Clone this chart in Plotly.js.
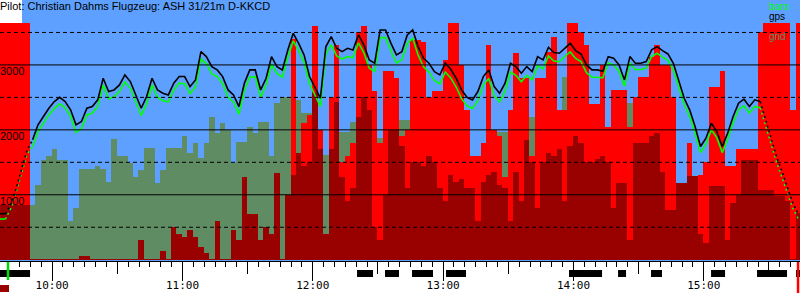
<!DOCTYPE html>
<html><head><meta charset="utf-8">
<script src="https://cdn.plot.ly/plotly-3.0.1.min.js"></script>
<style>html,body{margin:0;padding:0;background:#fff}#chart{width:800px;height:300px}</style>
</head><body><div id="chart"></div>
<script>
const DAY = '2024-06-01 ';
const times = [
'09:36:00','09:38:30','09:41:00','09:43:30','09:46:00','09:48:30','09:51:00','09:53:30','09:56:00','09:58:30',
'10:01:00','10:03:30','10:06:00','10:08:30','10:11:00','10:13:30','10:16:00','10:18:30','10:21:00','10:23:30',
'10:26:00','10:28:30','10:31:00','10:33:30','10:36:00','10:38:30','10:41:00','10:43:30','10:46:00','10:48:30',
'10:51:00','10:53:30','10:56:00','10:58:30','11:01:00','11:03:30','11:06:00','11:08:30','11:11:00','11:13:30',
'11:16:00','11:18:30','11:21:00','11:23:30','11:26:00','11:28:30','11:31:00','11:33:30','11:36:00','11:38:30',
'11:41:00','11:43:30','11:46:00','11:48:30','11:51:00','11:53:30','11:56:00','11:58:30','12:01:00','12:03:30',
'12:06:00','12:08:30','12:11:00','12:13:30','12:16:00','12:18:30','12:21:00','12:23:30','12:26:00','12:28:30',
'12:31:00','12:33:30','12:36:00','12:38:30','12:41:00','12:43:30','12:46:00','12:48:30','12:51:00','12:53:30',
'12:56:00','12:58:30','13:01:00','13:03:30','13:06:00','13:08:30','13:11:00','13:13:30','13:16:00','13:18:30',
'13:21:00','13:23:30','13:26:00','13:28:30','13:31:00','13:33:30','13:36:00','13:38:30','13:41:00','13:43:30',
'13:46:00','13:48:30','13:51:00','13:53:30','13:56:00','13:58:30','14:01:00','14:03:30','14:06:00','14:08:30',
'14:11:00','14:13:30','14:16:00','14:18:30','14:21:00','14:23:30','14:26:00','14:28:30','14:31:00','14:33:30',
'14:36:00','14:38:30','14:41:00','14:43:30','14:46:00','14:48:30','14:51:00','14:53:30','14:56:00','14:58:30',
'15:01:00','15:03:30','15:06:00','15:08:30','15:11:00','15:13:30','15:16:00','15:18:30','15:21:00','15:23:30',
'15:26:00','15:28:30','15:31:00','15:33:30','15:36:00','15:38:30','15:41:00','15:43:30'];

const gps = [
708,708,846,1103,1410,1692,1846,2077,2205,2333,
2436,2502,2436,2308,2077,2128,2333,2359,2462,2795,
2590,2615,2692,2846,2744,2538,2333,2513,2795,2615,
2564,2538,2718,2821,2821,2667,2769,3205,3128,2974,
2923,2820,2615,2538,2359,2718,2923,2923,2615,2795,
3128,2974,2923,3231,3487,3333,3154,2821,2641,2487,
3280,3436,3256,3205,3256,3231,3462,3308,3077,3026,
3538,3538,3333,3154,3205,3462,3538,3282,3103,3026,
2897,2846,3026,2933,2795,2615,2502,2462,2590,2820,
2923,2667,2564,2718,3026,2974,2872,2974,2897,3128,
3077,3272,3190,3180,3256,3333,3221,3169,3000,2923,
2923,2903,3128,3103,3000,2769,3128,3026,3026,3051,
3231,3282,3221,3169,3026,2769,2487,2308,2051,1744,
1872,2103,1974,1744,1949,2205,2410,2472,2359,2462,
2436,2154,1872,1590,1359,1128,872,708];

const baro = [
626,626,790,1050,1350,1630,1740,1970,2100,2230,
2330,2400,2340,2210,1960,2020,2230,2260,2360,2690,
2480,2510,2590,2740,2640,2430,2220,2400,2690,2500,
2450,2430,2610,2720,2710,2560,2660,3090,3020,2860,
2820,2710,2500,2430,2240,2610,2810,2820,2500,2690,
3010,2870,2810,3120,3370,3220,3040,2710,2530,2360,
3170,3310,3140,3090,3130,3110,3340,3190,2950,2900,
3420,3420,3210,3030,3080,3330,3410,3150,2970,2890,
2760,2710,2890,2800,2660,2480,2370,2330,2450,2690,
2790,2530,2430,2590,2890,2840,2740,2840,2770,2990,
2940,3140,3060,3050,3130,3200,3100,3050,2880,2810,
2810,2800,3030,3000,2900,2670,3030,2930,2930,2950,
3130,3180,3120,3070,2920,2670,2390,2210,1950,1650,
1780,2000,1880,1650,1850,2110,2310,2370,2260,2360,
2340,2060,1780,1500,1270,1040,790,630];

const gnd = [
700,700,700,700,700,700,846,1154,1540,1590,
1700,1538,1538,600,800,1395,1395,1395,1440,1395,
1190,1862,1590,1590,1485,1280,1380,1718,1718,1180,
1380,1718,1718,1718,1900,1640,1800,1564,1795,2205,
1949,2100,2000,1487,1820,1820,2051,1950,2128,2128,
1590,2410,2513,2513,2460,2460,2256,2256,2300,1615,
1615,1700,1800,1974,1974,2128,2000,2000,1900,1870,
1870,2385,2385,2385,2154,2154,2154,1900,1800,1700,
1600,1550,1500,1500,1500,1460,1460,1436,1436,1800,
1800,1800,1974,1974,1974,2154,2154,2200,2200,1385,
1385,2410,2256,2256,2820,2667,2564,2300,2300,2385,
2385,1538,1949,1300,1282,1282,2410,2410,2410,2500,
2667,2300,2256,2256,1800,1180,1180,1180,1180,1050,
950,1025,1025,1025,897,897,897,1590,1590,1590,
1400,1200,1100,1000,950,770,770,700];

const speed = [
3650,3650,3650,3650,3650,3650,0,0,0,0,
0,0,0,0,0,0,0,0,0,0,
0,0,0,0,0,0,0,0,0,0,
0,0,0,0,0,0,0,0,0,0,
0,0,0,0,0,0,0,0,0,0,
0,0,0,0,3400,0,2100,2230,3600,2000,
0,2500,3300,1500,1600,1800,3500,3600,3000,2600,
1800,2900,2900,2800,1900,2000,3380,3380,3350,2513,
2600,2600,3077,3640,3640,3000,2300,1590,1590,1800,
3300,2000,1900,1280,2300,3180,2800,2800,1590,2800,
2800,3200,3430,2300,2300,3640,3640,3500,3300,2400,
2400,3000,2050,2615,2615,2615,2050,2500,2820,2820,
3128,3300,3000,3000,2500,1000,1000,1800,1280,1300,
1500,2667,2667,2900,1436,1436,1700,1700,1700,1700,
3500,3650,3650,3650,3650,3650,2300,3650];

const enl = [
846,846,846,846,846,846,15,15,15,15,
15,15,15,15,15,50,60,15,15,15,
15,15,15,15,15,15,300,15,15,15,
130,15,500,400,350,450,350,200,100,15,
600,15,15,450,300,1280,700,700,300,500,
400,1333,15,1000,1300,1640,1436,1500,2564,1700,
400,1700,2436,1280,900,1100,2200,2500,2300,500,
300,1000,2000,2000,1750,1100,1500,1500,1450,1600,
1500,1100,900,1300,1200,1250,1100,1100,600,1200,
1300,1350,1150,1100,600,1350,900,1850,1500,800,
1500,1650,1600,1700,900,1750,1900,1800,1500,1500,
1550,1590,1500,800,1180,1180,300,1800,1800,1800,
1900,1950,1350,770,770,1180,1180,1282,1282,400,
250,1130,1130,1130,300,870,1000,1540,1540,1540,
1080,1080,1080,975,975,900,15,718];

const solidGrid = [1000, 2000, 3000];
const dashGrid = [500, 1500, 2500, 3500];
const yLabels = ['1000', '2000', '3000'];
const circleStart = ['09:36:00','12:20:22','12:33:15','12:45:40','13:01:20','13:57:58','14:20:32','14:35:43','15:03:21','15:24:31','15:42:29'];
const circleEnd   = ['09:49:50','12:27:44','12:39:42','12:55:20','13:10:33','14:13:10','14:24:13','14:40:47','15:09:48','15:38:20','15:44:20'];
const takeoff = '09:39:41';
const landing = '15:43:24';
const rangeStart = '09:36:00';
const rangeEnd = '15:44:18';
const titleText = 'Pilot: Christian Dahms Flugzeug: ASH 31/21m D-KKCD';
const legendNames = ['baro', 'gps', 'vars', 'gnd'];

const C = {bg:'#5ea0ff', gnd:'#608c63', red:'#ff0000', dark:'#990000', baro:'#00ff00', gps:'#000000'};
const legendColors = [C.baro, C.gps, C.red, C.gnd];

const X = times.map(t => DAY + t);
const PH = 261; // plot area height in px
const py = px => (PH - px) / PH; // pixel row -> paper y

const barBase = {type:'bar', x:X, width:150000, hoverinfo:'skip'};
const traces = [
  Object.assign({}, barBase, {y:gnd, marker:{color:C.gnd, line:{width:0}}}),
  Object.assign({}, barBase, {y:speed, marker:{color:C.red, line:{width:0}}}),
  Object.assign({}, barBase, {y:enl, marker:{color:C.dark, line:{width:0}}}),
];
function lineSeg(vals, a, b, color, dash) {
  return {type:'scatter', mode:'lines', x:X.slice(a, b), y:vals.slice(a, b),
    line:{color:color, width:1.6, dash:dash, shape:'linear'}, hoverinfo:'skip'};
}
[[baro, C.baro], [gps, C.gps]].forEach(([v, c]) => {
  traces.push(lineSeg(v, 0, 2, c, 'solid'));
  traces.push(lineSeg(v, 1, 7, c, '2px,3px'));
  traces.push(lineSeg(v, 6, 141, c, 'solid'));
  traces.push(lineSeg(v, 140, 148, c, '2px,3px'));
});
// invisible traces so the overlaid tick-only axes are drawn
['x2', 'x3'].forEach(ax => traces.push({type:'scatter', mode:'markers', x:[DAY + rangeStart], y:[-100], xaxis:ax, yaxis:'y', marker:{opacity:0}, hoverinfo:'skip'}));

const shapes = [];
shapes.push({type:'rect', xref:'paper', yref:'paper', x0:0, x1:22/800, y0:py(23), y1:1, fillcolor:'#ffffff', line:{width:0}, layer:'below'});
solidGrid.forEach(v => shapes.push({type:'line', xref:'paper', yref:'y', x0:0, x1:1, y0:v, y1:v, line:{color:'#000', width:1}, layer:'above'}));
dashGrid.forEach(v => shapes.push({type:'line', xref:'paper', yref:'y', x0:0, x1:1, y0:v, y1:v, line:{color:'#000', width:1, dash:'4px,3px'}, layer:'above'}));
circleStart.forEach((s, i) => shapes.push({type:'rect', xref:'x', yref:'paper', x0:DAY + s, x1:DAY + circleEnd[i], y0:py(277), y1:py(270), fillcolor:'#000', line:{width:0}}));
shapes.push({type:'line', xref:'x', yref:'paper', x0:DAY + takeoff, x1:DAY + takeoff, y0:py(262), y1:py(280), line:{color:'#00dd00', width:2.5}});
shapes.push({type:'line', xref:'x', yref:'paper', x0:DAY + landing, x1:DAY + landing, y0:py(262), y1:py(293), line:{color:'#ff0000', width:2.5}});
shapes.push({type:'rect', xref:'paper', yref:'paper', x0:0, x1:9/800, y0:py(292), y1:py(285), fillcolor:C.dark, line:{width:0}});

const annotations = [];
annotations.push({xref:'paper', yref:'paper', x:0, y:py(6.5), xanchor:'left', yanchor:'middle', text:titleText, showarrow:false,
  font:{family:'Liberation Sans, Arial, sans-serif', size:11, color:'#000'}, xshift:-2});
solidGrid.forEach((v, i) => annotations.push({xref:'paper', yref:'y', x:0, y:v, xanchor:'left', yanchor:'top', text:yLabels[i], showarrow:false,
  font:{family:'Liberation Sans, Arial, sans-serif', size:11, color:'#000'}, xshift:-2, yshift:2}));
legendNames.forEach((n, i) => annotations.push({xref:'paper', yref:'paper', x:768/800, y:py(6.5 + 10 * i), xanchor:'left', yanchor:'middle', text:n, showarrow:false,
  borderpad:0, font:{family:'Liberation Sans, Arial, sans-serif', size:10, color:legendColors[i]}}));

const tickAxis = (len, dt) => ({type:'date', overlaying:'x', anchor:'y', side:'bottom', range:[DAY + rangeStart, DAY + rangeEnd],
  showgrid:false, zeroline:false, showline:false, showticklabels:false,
  ticks:'outside', ticklen:len, tickwidth:1, tickcolor:'#000', tick0:DAY + '10:00:00', dtick:dt, fixedrange:true});

const layout = {
  width:800, height:300,
  margin:{l:0, r:0, t:0, b:39, pad:0},
  paper_bgcolor:'#ffffff', plot_bgcolor:C.bg,
  barmode:'overlay', bargap:0, showlegend:false,
  xaxis:{type:'date', range:[DAY + rangeStart, DAY + rangeEnd], showgrid:false, zeroline:false,
    showline:true, linecolor:'#000', linewidth:1,
    ticks:'outside', ticklen:14, tickwidth:1, tickcolor:'#000',
    tick0:DAY + '10:00:00', dtick:3600000, tickformat:'%H:%M',
    tickfont:{family:'DejaVu Sans Mono, monospace', size:11, color:'#000'},
    minor:{ticks:'outside', ticklen:5, tickwidth:1, tickcolor:'#000', dtick:300000, tick0:DAY + '10:00:00', showgrid:false},
    fixedrange:true},
  xaxis2:tickAxis(19, 3600000),
  xaxis3:tickAxis(12, 1800000),
  yaxis:{range:[-20, 4000], showgrid:false, zeroline:false, showticklabels:false, ticks:'', showline:false, fixedrange:true},
  shapes:shapes, annotations:annotations
};
Plotly.newPlot('chart', traces, layout, {staticPlot:true, displayModeBar:false});
</script></body></html>
